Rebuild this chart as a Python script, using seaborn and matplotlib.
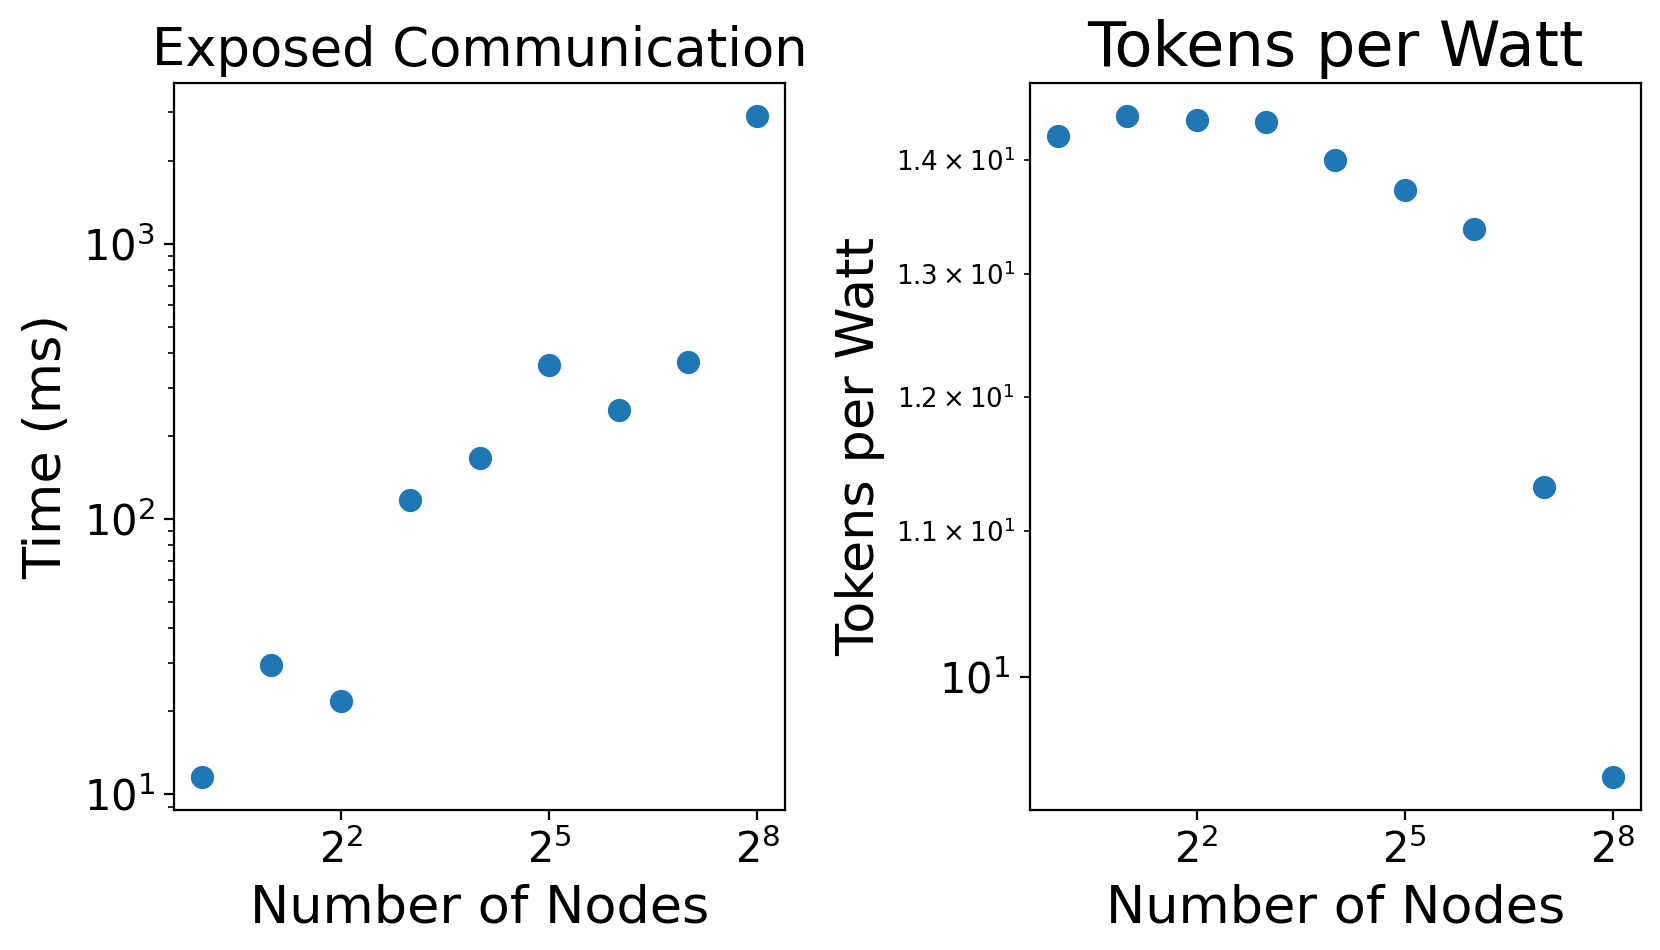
import matplotlib
matplotlib.use('Agg')
import matplotlib.pyplot as plt
import numpy as np
import pandas as pd
import seaborn as sns

# values
nodes = [1, 2, 4, 8, 16, 32, 64, 128, 256]
exposed_comm_ms = [11.5, 29.4, 21.8, 117, 167, 361, 249, 371, 2918]
tokens_per_watt = [14.22, 14.41, 14.37, 14.35, 14.0, 13.73, 13.39, 11.32, 9.37]

df = pd.DataFrame({'nodes': nodes, 'time': exposed_comm_ms, 'tpw': tokens_per_watt})

sns.set_style('ticks', {'text.color': 'black', 'axes.labelcolor': 'black',
                        'xtick.color': 'black', 'ytick.color': 'black',
                        'axes.edgecolor': 'black'})
plt.rcParams['font.family'] = ['DejaVu Sans']

fig, axs = plt.subplots(1, 2, figsize=(8.3, 4.75), dpi=200)
fig.subplots_adjust(left=0.105, right=0.9885, bottom=0.147, top=0.913, wspace=0.401)

color = '#1f77b4'

ax = axs[0]
sns.scatterplot(data=df, x='nodes', y='time', ax=ax, color=color, s=70, linewidth=0)
ax.set_xscale('log', base=2)
ax.set_yscale('log')
ax.set_title('Exposed Communication', fontsize=19)
ax.set_xlabel('Number of Nodes', fontsize=18.9)
ax.set_ylabel('Time (ms)', fontsize=18.9)
ax.tick_params(labelsize=15)

ax = axs[1]
sns.scatterplot(data=df, x='nodes', y='tpw', ax=ax, color=color, s=70, linewidth=0)
ax.set_xscale('log', base=2)
ax.set_yscale('log')
ax.set_title('Tokens per Watt', fontsize=22.4)
ax.set_xlabel('Number of Nodes', fontsize=18.9)
ax.set_ylabel('Tokens per Watt', fontsize=18.9)
ax.tick_params(labelsize=15)
ax.tick_params(which='minor', labelsize=9.4)

for ax in axs:
    for s in ax.spines.values():
        s.set_visible(True)
        s.set_linewidth(0.8)
        s.set_color('black')

fig.savefig('out.png', dpi=200)
